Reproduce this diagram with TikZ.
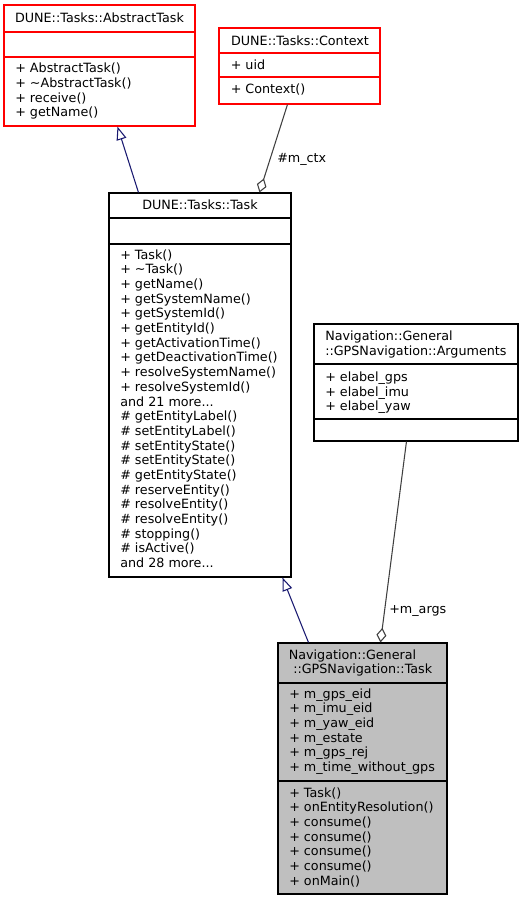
\documentclass[tikz,border=0pt]{standalone}
\usepackage{fontspec}
\setmainfont{DejaVu Sans}
\usetikzlibrary{arrows.meta,fit,calc}
\definecolor{dxred}{HTML}{FF0000}
\definecolor{dxblue}{HTML}{191970}
\definecolor{dxgrey}{HTML}{404040}
\definecolor{dxfill}{HTML}{BFBFBF}
\tikzset{
  umlbox/.style={draw, inner sep=0pt, line width=0.8pt},
  redbox/.style={umlbox, draw=dxred},
  blkbox/.style={umlbox, draw=black},
  txt/.style={font=\fontsize{9.55}{11}\selectfont, inner sep=0pt, anchor=base west},
  ctxt/.style={txt, anchor=base},
  gen/.style={draw=dxblue, line width=0.8pt, -{Triangle[open, length=10pt, width=7.5pt, fill=white]}},
  agg/.style={draw=dxgrey, line width=0.8pt, -{Diamond[open, length=11pt, width=7.5pt, fill=white]}},
  redline/.style={draw=dxred, line width=0.8pt},
  blkline/.style={draw=black, line width=0.8pt},
}
\newcommand\threedots{...}
\newcommand\umlrows[4]{%
  \foreach \rowtext [count=\i from 0] in {#4} {\node[txt] (#3\i) at (#1, {#2+\i*14.67}) {\rowtext};}}
\begin{document}
\begin{tikzpicture}[x=0.75pt, y=-0.75pt]
\useasboundingbox (0,0) rectangle (524,901);

% AbstractTask
\node[redbox, fit={(4,5) (195,126)}] (abs) {};
\draw[redline] (4,32) -- (195,32);
\draw[redline] (4,57) -- (195,57);
\node[ctxt] (absT) at (99.5,22.7) {DUNE::Tasks::AbstractTask};
\umlrows{15}{72.7}{absm}{{+ AbstractTask()}, {+ \textasciitilde{}AbstractTask()}, {+ receive()}, {+ getName()}}

% Context
\node[redbox, fit={(219,28) (380,104)}] (ctx) {};
\draw[redline] (219,53) -- (380,53);
\draw[redline] (219,77) -- (380,77);
\node[ctxt] (ctxT) at (300,45) {DUNE::Tasks::Context};
\node[txt] (ctxA) at (230.5,69.3) {+ uid};
\node[txt] (ctxM) at (230.5,93.3) {+ Context()};

% Task
\node[blkbox, fit={(109,193) (291,577)}] (task) {};
\draw[blkline] (109,218) -- (291,218);
\draw[blkline] (109,244) -- (291,244);
\node[ctxt] (taskT) at (200,209) {DUNE::Tasks::Task};
\umlrows{120}{259.3}{taskm}{{+ Task()}, {+ \textasciitilde{}Task()}, {+ getName()}, {+ getSystemName()}, {+ getSystemId()}, {+ getEntityId()}, {+ getActivationTime()}, {+ getDeactivationTime()}, {+ resolveSystemName()}, {+ resolveSystemId()}, {and 21 more\threedots}, {\# getEntityLabel()}, {\# setEntityLabel()}, {\# setEntityState()}, {\# setEntityState()}, {\# getEntityState()}, {\# reserveEntity()}, {\# resolveEntity()}, {\# resolveEntity()}, {\# stopping()}, {\# isActive()}, {and 28 more\threedots}}

% Arguments
\node[blkbox, fit={(314,324) (518,441)}] (args) {};
\draw[blkline] (314,364) -- (518,364);
\draw[blkline] (314,419) -- (518,419);
\node[txt] (argsT1) at (325,340.5) {Navigation::General};
\node[txt] (argsT2) at (325,355) {::GPSNavigation::Arguments};
\umlrows{325}{381.5}{argsa}{{+ elabel\_gps}, {+ elabel\_imu}, {+ elabel\_yaw}}

% GPSNavigation Task
\node[blkbox, fill=dxfill, fit={(278,643) (447,894)}] (gps) {};
\draw[blkline] (278,683) -- (447,683);
\draw[blkline] (278,781) -- (447,781);
\node[txt] (gpsT1) at (288.5,659.3) {Navigation::General};
\node[txt] (gpsT2) at (293,673.5) {::GPSNavigation::Task};
\umlrows{289}{698.3}{gpsa}{{+ m\_gps\_eid}, {+ m\_imu\_eid}, {+ m\_yaw\_eid}, {+ m\_estate}, {+ m\_gps\_rej}, {+ m\_time\_without\_gps}}
\umlrows{289}{797.3}{gpsm}{{+ Task()}, {+ onEntityResolution()}, {+ consume()}, {+ consume()}, {+ consume()}, {+ consume()}, {+ onMain()}}

% connectors
\coordinate (absB) at ($(abs.south west)+(114,0)$);
\coordinate (taskTop) at ($(task.north west)+(30,0)$);
\draw[gen] (taskTop) -- (absB);

\coordinate (ctxB) at ($(ctx.south west)+(69,0)$);
\coordinate (taskTopR) at ($(task.north west)+(151,0)$);
\draw[agg] (ctxB) -- (taskTopR);
\node[txt] (lctx) at (277,162.7) {\#m\_ctx};

\coordinate (taskB) at ($(task.south west)+(174,0)$);
\coordinate (gpsTop) at ($(gps.north west)+(31,0)$);
\draw[gen] (gpsTop) -- (taskB);

\coordinate (argsB) at ($(args.south west)+(93,0)$);
\coordinate (gpsTopR) at ($(gps.north west)+(103,0)$);
\draw[agg] (argsB) -- (gpsTopR);
\node[txt] (largs) at (389,613.3) {+m\_args};
\end{tikzpicture}
\end{document}
